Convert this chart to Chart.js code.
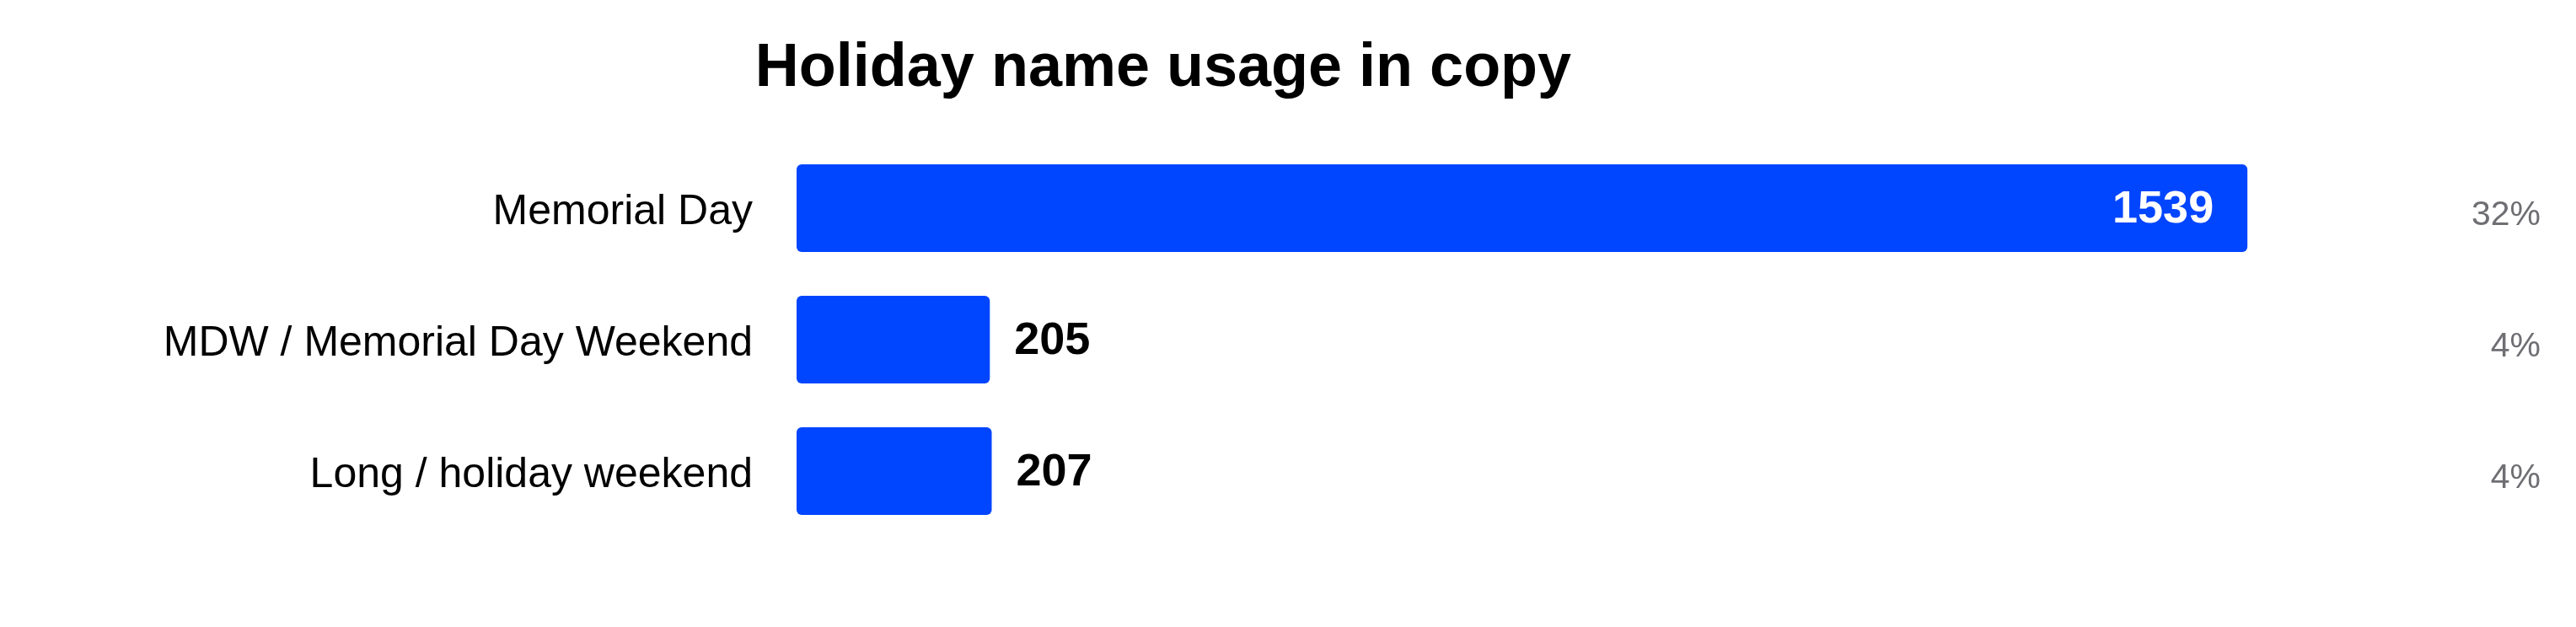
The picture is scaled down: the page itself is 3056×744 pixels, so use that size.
<!DOCTYPE html>
<html>
<head>
<meta charset="utf-8">
<title>Holiday name usage in copy</title>
<script src="https://cdn.jsdelivr.net/npm/chart.js@4.4.1/dist/chart.umd.min.js"></script>
<style>
    html, body { margin: 0; padding: 0; background: #ffffff; }
    .chart-wrap { position: relative; width: 3056px; height: 744px; }
</style>
</head>
<body>
<div class="chart-wrap">
    <canvas id="usageChart"></canvas>
</div>
<script>
const chartTitle = 'Holiday name usage in copy';
const categories = ['Memorial Day', 'MDW / Memorial Day Weekend', 'Long / holiday weekend'];
const mentions = [1539, 205, 207];
const shares = [32, 4, 4];

const FONT = '"Liberation Sans", Arial, Helvetica, sans-serif';

// Title is centred over a fixed point rather than the whole canvas
const titlePlugin = {
    id: 'offsetTitle',
    afterDraw(chart) {
        const ctx = chart.ctx;
        ctx.save();
        ctx.font = 'bold 72px ' + FONT;
        ctx.fillStyle = '#000000';
        ctx.textAlign = 'center';
        ctx.textBaseline = 'alphabetic';
        ctx.fillText(chartTitle, 1380, 102);
        ctx.restore();
    }
};

// Counts on/next to the bars and share of total at the right edge
const labelPlugin = {
    id: 'barLabels',
    afterDatasetsDraw(chart) {
        const ctx = chart.ctx;
        const meta = chart.getDatasetMeta(0);
        ctx.save();
        meta.data.forEach((bar, i) => {
            const len = bar.x - bar.base;
            ctx.font = 'bold 54px ' + FONT;
            ctx.textBaseline = 'middle';
            if (len > 300) {
                ctx.fillStyle = '#ffffff';
                ctx.textAlign = 'right';
                ctx.fillText(String(mentions[i]), bar.x - 40, bar.y + 2);
            } else {
                ctx.fillStyle = '#000000';
                ctx.textAlign = 'left';
                ctx.fillText(String(mentions[i]), bar.x + 29, bar.y + 2);
            }
            ctx.font = '41px ' + FONT;
            ctx.fillStyle = '#6e6e73';
            ctx.textAlign = 'right';
            ctx.fillText(shares[i] + '%', chart.chartArea.right, bar.y + 9);
        });
        ctx.restore();
    }
};

document.addEventListener('DOMContentLoaded', function() {
    const ctx = document.getElementById('usageChart');
    new Chart(ctx, {
        type: 'bar',
        data: {
            labels: categories,
            datasets: [{
                label: 'Mentions',
                data: mentions,
                backgroundColor: '#0045ff',
                borderWidth: 0,
                borderRadius: 6,
                borderSkipped: false,
                categoryPercentage: 1,
                barPercentage: 0.667
            }]
        },
        options: {
            indexAxis: 'y',
            responsive: true,
            maintainAspectRatio: false,
            animation: false,
            layout: {
                padding: { top: 169, bottom: 107, left: 0, right: 42 }
            },
            scales: {
                x: {
                    display: false,
                    min: 0,
                    max: 1850
                },
                y: {
                    grid: { display: false, drawTicks: false },
                    border: { display: false },
                    ticks: {
                        color: '#000000',
                        padding: 52,
                        labelOffset: 5,
                        font: { family: FONT, size: 50 }
                    },
                    afterFit(scale) {
                        scale.width = 945;
                    }
                }
            },
            plugins: {
                legend: { display: false },
                title: { display: false },
                tooltip: { enabled: false }
            }
        },
        plugins: [titlePlugin, labelPlugin]
    });
});
</script>
</body>
</html>
